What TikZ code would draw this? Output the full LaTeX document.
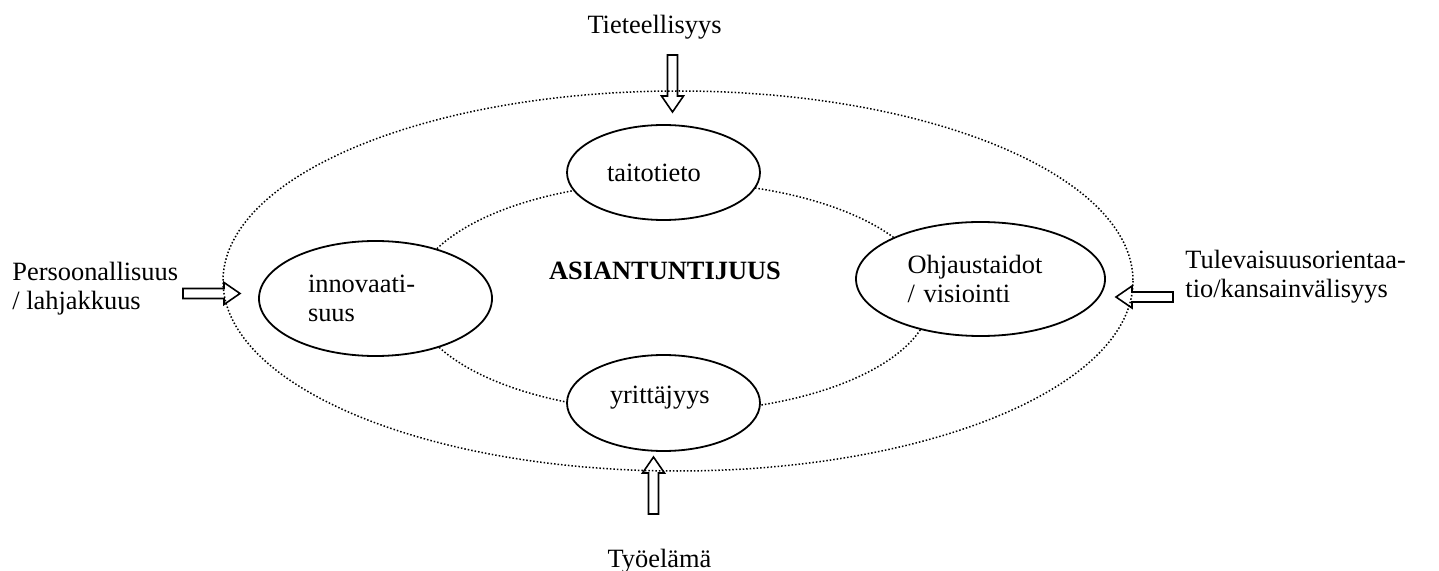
\documentclass[tikz,border=0pt]{standalone}
\usepackage{fontspec}
\setmainfont{Liberation Serif}
\usetikzlibrary{shapes.geometric}
\tikzset{
  blob/.style={draw, ellipse, line width=0.9pt, fill=white, inner sep=0pt, align=left},
  ring/.style={line width=0.75pt, dash pattern=on 0.75pt off 1pt},
  lbl/.style={inner sep=0pt, align=left},
  blockarr/.pic={\draw[line width=0.8pt, line join=miter] (0,-5) -- (41,-5) -- (41,-11) -- (57,0) -- (41,11) -- (41,5) -- (0,5) -- cycle;}
}
\begin{document}
\begin{tikzpicture}[x=0.5pt,y=-0.5pt, font=\fontsize{13.2}{14.8}\selectfont]
\useasboundingbox (0,0) rectangle (1439,571);
% dotted rings
\draw[ring] (678,281) ellipse [x radius=455, y radius=190];
\draw[ring] (672,297) ellipse [x radius=259, y radius=115];
% ellipses
\node[blob, minimum width=96.5pt, minimum height=47.5pt, text width=56.5pt] (taito) at (663.5,172.5) {taitotieto};
\node[blob, minimum width=116.5pt, minimum height=57.5pt, text width=67.5pt] (innov) at (375.5,298.5) {innovaati-\\suus};
\node[blob, minimum width=124.5pt, minimum height=57pt, text width=73pt] (ohjaus) at (980.5,279) {Ohjaustaidot\\/ visiointi};
\node[blob, minimum width=96.5pt, minimum height=48pt, text width=53.5pt, text height=9pt, text depth=9pt] (yritt) at (663.5,403) {yrittäjyys};
% centre text
\node[lbl, anchor=base, font=\fontsize{13.2}{14.8}\selectfont\bfseries] (asian) at (665,280) {ASIANTUNTIJUUS};
% outside labels
\node[lbl, anchor=base] (tiet) at (654.5,34) {Tieteellisyys};
\node[lbl, anchor=base] (tyo) at (659.5,567) {Työelämä};
\node[lbl, anchor=west] (pers) at (12,288.6) {Persoonallisuus\\/ lahjakkuus};
\node[lbl, anchor=west] (tulev) at (1185,276.6) {Tulevaisuusorientaa-\\tio/kansainvälisyys};
% block arrows
\coordinate (topTail) at (672.5,55);
\coordinate (botTail) at (653.5,514);
\coordinate (leftTail) at (183,293.5);
\coordinate (rightTail) at (1173,297);
\pic[rotate=-90] at (topTail) {blockarr};
\pic[rotate=90] at (botTail) {blockarr};
\pic at (leftTail) {blockarr};
\pic[rotate=180] at (rightTail) {blockarr};
\end{tikzpicture}
\end{document}
